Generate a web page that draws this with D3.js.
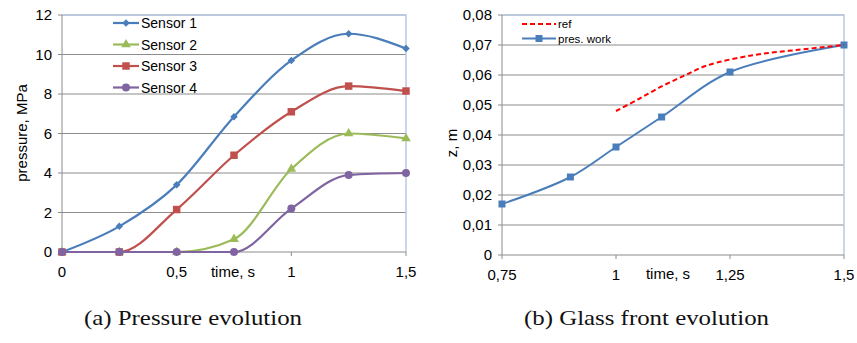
<!DOCTYPE html>
<html>
<head>
<meta charset="utf-8">
<script src="https://cdn.jsdelivr.net/npm/d3@7"></script>
<style>
  body { margin: 0; background: #fff; }
  svg { display: block; }
  text { font-family: "Liberation Sans", Arial, sans-serif; fill: #000; }
  text.cap { font-family: "Liberation Serif", "Times New Roman", Times, serif; fill: #111; }
</style>
</head>
<body>
<svg id="chart" width="857" height="343"></svg>
<script>
// left panel: pressure
const times = [0, 0.25, 0.5, 0.75, 1, 1.25, 1.5];
const sensor1 = [0, 1.3, 3.4, 6.85, 9.7, 11.05, 10.3];
const sensor2 = [0, 0, 0, 0.65, 4.2, 6.0, 5.75];
const sensor3 = [0, 0, 2.15, 4.9, 7.1, 8.4, 8.15];
const sensor4 = [0, 0, 0, 0, 2.2, 3.9, 4.0];
const sensorNames = ["Sensor 1", "Sensor 2", "Sensor 3", "Sensor 4"];
const leftXTicks = [0, 0.5, 1, 1.5];
const leftYTicks = [0, 2, 4, 6, 8, 10, 12];

// right panel: glass front
const workTimes = [0.75, 0.9, 1.0, 1.1, 1.25, 1.5];
const workZ = [0.017, 0.026, 0.036, 0.046, 0.061, 0.070];
const refTimes = [1.0, 1.05, 1.1, 1.15, 1.2, 1.3, 1.4, 1.5];
const refZ = [0.048, 0.052, 0.0562, 0.0598, 0.0632, 0.0666, 0.0684, 0.0700];
const rightXTicks = [0.75, 1, 1.25, 1.5];
const rightYTicks = [0, 0.01, 0.02, 0.03, 0.04, 0.05, 0.06, 0.07, 0.08];

const svg = d3.select("#chart");
const comma = d => String(d).replace(".", ",");
const colors = ["#4a7ebb", "#9bbb59", "#c0504d", "#8064a2"];
const symbols = [d3.symbolDiamond2, d3.symbolTriangle, d3.symbolSquare, d3.symbolCircle];
const symSizes = [36, 40, 56, 50];

function frame(g, x, y, xt, yt, fmtY) {
  const [x0, x1] = x.range();
  const [y0, y1] = y.range();
  g.selectAll(".grid").data(yt.filter(v => v !== 0)).enter().append("line")
    .attr("x1", x0 - 4).attr("x2", x1)
    .attr("y1", d => y(d)).attr("y2", d => y(d))
    .attr("stroke", "#8c8c8c").attr("stroke-width", 1);
  // plot area border (top/right)
  g.append("path").attr("d", `M${x0},${y1}H${x1}V${y0}`)
    .attr("fill", "none").attr("stroke", "#b9c9e3").attr("stroke-width", 1.5);
  // axes
  g.append("line").attr("x1", x0).attr("x2", x0).attr("y1", y0).attr("y2", y1)
    .attr("stroke", "#8c8c8c");
  g.append("line").attr("x1", x0 - 4).attr("x2", x1).attr("y1", y0).attr("y2", y0)
    .attr("stroke", "#8c8c8c");
  g.selectAll(".xt").data(xt).enter().append("line")
    .attr("x1", d => x(d)).attr("x2", d => x(d)).attr("y1", y0).attr("y2", y0 + 4)
    .attr("stroke", "#8c8c8c");
  g.selectAll(".yl").data(yt).enter().append("text")
    .attr("x", x0 - 10).attr("y", d => y(d) + 5)
    .attr("text-anchor", "end").style("font-size", "15px")
    .text(fmtY);
  g.selectAll(".xl").data(xt).enter().append("text")
    .attr("x", d => x(d)).attr("y", y0 + 25)
    .attr("text-anchor", "middle").style("font-size", "15px")
    .text(comma);
}

// ---- left chart
const xL = d3.scaleLinear().domain([0, 1.5]).range([62, 406]);
const yL = d3.scaleLinear().domain([0, 12]).range([252, 15]);
const gL = svg.append("g");
frame(gL, xL, yL, leftXTicks, leftYTicks, d => d);
gL.append("text").attr("x", 233).attr("y", 277).attr("text-anchor", "middle")
  .style("font-size", "15px").text("time, s");
gL.append("text").attr("transform", "translate(27,133) rotate(-90)")
  .attr("text-anchor", "middle").style("font-size", "15px").text("pressure, MPa");

const curve = d3.curveMonotoneX;
const sensors = [sensor1, sensor2, sensor3, sensor4];
const lineL = d3.line().x(d => xL(d[0])).y(d => yL(d[1])).curve(curve);
sensors.forEach((vals, i) => {
  const pts = times.map((t, j) => [t, vals[j]]);
  gL.append("path").attr("d", lineL(pts)).attr("fill", "none")
    .attr("stroke", colors[i]).attr("stroke-width", 2.2);
  gL.selectAll(".m" + i).data(pts).enter().append("path")
    .attr("d", d3.symbol(symbols[i], symSizes[i]))
    .attr("transform", d => `translate(${xL(d[0])},${yL(d[1])})`)
    .attr("fill", colors[i]);
});
// legend
sensorNames.forEach((n, i) => {
  const ly = 23 + i * 21.5;
  gL.append("line").attr("x1", 113).attr("x2", 139).attr("y1", ly).attr("y2", ly)
    .attr("stroke", colors[i]).attr("stroke-width", 2.2);
  gL.append("path").attr("d", d3.symbol(symbols[i], symSizes[i]))
    .attr("transform", `translate(126,${ly})`).attr("fill", colors[i]);
  gL.append("text").attr("x", 141).attr("y", ly + 5).style("font-size", "14px").text(n);
});

// ---- right chart
const xR = d3.scaleLinear().domain([0.75, 1.5]).range([502, 844]);
const yR = d3.scaleLinear().domain([0, 0.08]).range([255, 15]);
const gR = svg.append("g");
frame(gR, xR, yR, rightXTicks, rightYTicks, d => d === 0 ? "0" : comma(d3.format(".2f")(d)));
gR.append("text").attr("x", 668).attr("y", 279).attr("text-anchor", "middle")
  .style("font-size", "15px").text("time, s");
gR.append("text").attr("transform", "translate(457,143) rotate(-90)")
  .attr("text-anchor", "middle").style("font-size", "15px").text("z, m");

const lineR = d3.line().x(d => xR(d[0])).y(d => yR(d[1])).curve(d3.curveCatmullRom);
const refPts = refTimes.map((t, j) => [t, refZ[j]]);
const workPts = workTimes.map((t, j) => [t, workZ[j]]);
gR.append("path").attr("d", lineR(workPts)).attr("fill", "none")
  .attr("stroke", "#4a7ebb").attr("stroke-width", 2);
gR.selectAll(".mw").data(workPts).enter().append("rect")
  .attr("x", d => xR(d[0]) - 3.5).attr("y", d => yR(d[1]) - 3.5)
  .attr("width", 7).attr("height", 7).attr("fill", "#4a7ebb");
gR.append("path").attr("d", lineR(refPts)).attr("fill", "none")
  .attr("stroke", "#ff0000").attr("stroke-width", 2).attr("stroke-dasharray", "5,3");
// legend
gR.append("line").attr("x1", 522).attr("x2", 556).attr("y1", 24).attr("y2", 24)
  .attr("stroke", "#ff0000").attr("stroke-width", 2).attr("stroke-dasharray", "5,3");
gR.append("text").attr("x", 558).attr("y", 28).style("font-size", "11.5px").text("ref");
gR.append("line").attr("x1", 522).attr("x2", 556).attr("y1", 38.5).attr("y2", 38.5)
  .attr("stroke", "#4a7ebb").attr("stroke-width", 2);
gR.append("rect").attr("x", 535.5).attr("y", 35).attr("width", 7).attr("height", 7)
  .attr("fill", "#4a7ebb");
gR.append("text").attr("x", 558).attr("y", 43).style("font-size", "11.5px").text("pres. work");

// captions
svg.append("text").attr("class", "cap").attr("x", 84).attr("y", 325)
  .attr("textLength", 218).attr("lengthAdjust", "spacingAndGlyphs")
  .style("font-size", "21px").text("(a) Pressure evolution");
svg.append("text").attr("class", "cap").attr("x", 524).attr("y", 325)
  .attr("textLength", 245).attr("lengthAdjust", "spacingAndGlyphs")
  .style("font-size", "21px").text("(b) Glass front evolution");
</script>
</body>
</html>
